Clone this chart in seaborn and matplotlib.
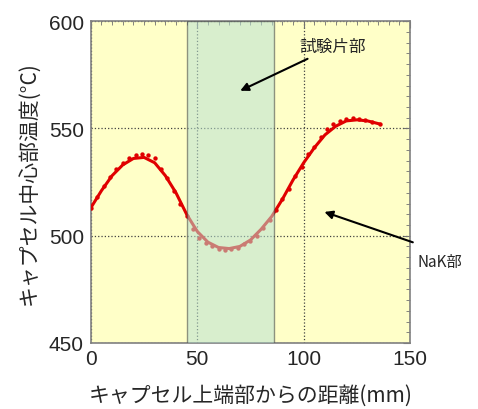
import matplotlib
matplotlib.use('Agg')
import matplotlib.pyplot as plt
from matplotlib.ticker import MultipleLocator
import seaborn as sns

# measured points (distance from capsule top, mm / centre temperature, degC)
dist_pts = [0, 3, 6, 9, 12, 15, 18, 21, 24, 27, 30, 33, 36, 39, 42, 45,
            48, 51, 54, 57, 60, 63, 66, 69, 72, 75, 78, 81, 84, 87, 90,
            93, 96, 99, 102, 105, 108, 111, 114, 117, 120, 123, 126, 129, 132, 136]
temp_pts = [513, 518, 523, 527.5, 531, 534, 536, 537.5, 538, 537.5, 536, 531,
            527, 521, 515, 509, 503, 499, 496.5, 495, 494, 493.5, 494, 494.5,
            496, 497.5, 500, 503.5, 507.5, 512, 517, 522, 528, 532, 538, 541.5,
            546, 549.5, 552, 553.5, 554.5, 555, 554.5, 554, 553, 552]

# smoothed curve
dist_fit = [0, 5, 10, 15, 20, 25, 30, 35, 40, 45, 50, 55, 60, 65, 70, 75,
            80, 85, 90, 95, 100, 105, 110, 115, 120, 125, 130, 136]
temp_fit = [513, 521, 528, 533, 536, 536.5, 534, 528, 520, 510, 502, 497,
            494.5, 494, 495, 498, 503, 509, 517, 526, 534, 541, 547, 551,
            553.5, 554, 553.5, 552]

# test piece zone
zone = [45, 86]

sns.set_style('white')
plt.rcParams['font.family'] = ['Liberation Sans', 'Noto Sans CJK JP', 'DejaVu Sans']

fig = plt.figure(figsize=(4.78, 4.10), dpi=100)
ax = fig.add_axes([0.190, 0.161, 0.668, 0.785])
ax.set_facecolor('#ffffc8')

sns.lineplot(x=dist_fit, y=temp_fit, color='#e00000', lw=2.2, ax=ax, zorder=3)
sns.scatterplot(x=dist_pts, y=temp_pts, color='#e00000', s=10, linewidth=0, ax=ax, zorder=3)

ax.axvspan(zone[0], zone[1], facecolor='#b9e1d2', alpha=0.55, edgecolor='#404040',
           lw=1.0, zorder=4)

ax.set_xlim(0, 150)
ax.set_ylim(450, 600)
ax.xaxis.set_major_locator(MultipleLocator(50))
ax.yaxis.set_major_locator(MultipleLocator(50))
ax.xaxis.set_minor_locator(MultipleLocator(5))
ax.yaxis.set_minor_locator(MultipleLocator(5))
ax.tick_params(which='both', direction='in', top=True, right=True, color='#707070')
ax.tick_params(which='major', length=5, labelsize=15)
ax.tick_params(axis='x', which='major', pad=4)
ax.tick_params(axis='y', which='major', pad=5)
ax.tick_params(which='minor', length=3)
ax.grid(True, which='major', ls=':', color='#404040', lw=0.9)
for s in ax.spines.values():
    s.set_color('#808080')
    s.set_linewidth(1.2)

ax.set_xlabel('キャプセル上端部からの距離(mm)', fontsize=15, labelpad=12,
              family=['Noto Sans CJK JP', 'DejaVu Sans'])
ax.set_ylabel('キャプセル中心部温度(°C)', fontsize=15, labelpad=6,
              family=['Noto Sans CJK JP', 'DejaVu Sans'])

ax.annotate('', xy=(69, 567), xytext=(103, 583),
            arrowprops=dict(arrowstyle='-|>', color='black', lw=1.5, mutation_scale=12),
            zorder=5)
ax.text(98, 588, '試験片部', fontsize=12, va='center', ha='left',
        family=['Noto Sans CJK JP'], zorder=5)

ax.annotate('', xy=(108.5, 511.5), xytext=(152.5, 496.5),
            arrowprops=dict(arrowstyle='-|>', color='black', lw=1.5, mutation_scale=12),
            annotation_clip=False, zorder=5)
ax.text(153.5, 488, 'NaK部', fontsize=11, va='center', ha='left',
        family=['Noto Sans CJK JP'], clip_on=False)

fig.savefig('out.png', dpi=100)
